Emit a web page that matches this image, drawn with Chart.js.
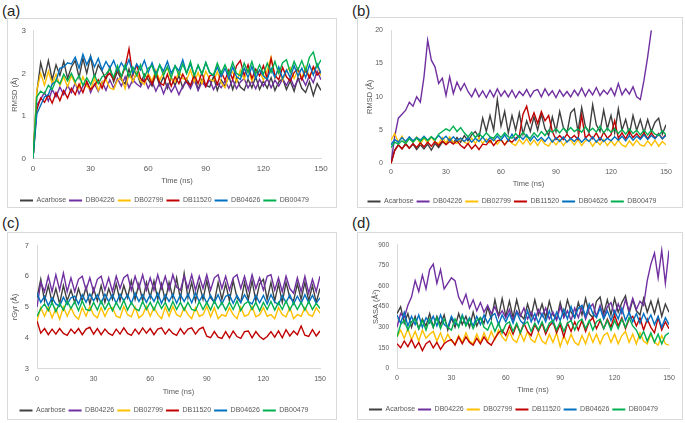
<!DOCTYPE html>
<html>
<head>
<meta charset="utf-8">
<script src="https://cdn.jsdelivr.net/npm/chart.js@4.4.1/dist/chart.umd.min.js"></script>
<style>
  body { margin: 0; background: #fff; width: 685px; height: 423px; overflow: hidden; position: relative; font-family: "Liberation Sans", Arial, sans-serif; }
  .box { position: absolute; border: 1px solid #d9d9d9; box-sizing: border-box; }
  .tag { position: absolute; font-size: 15px; color: #262626; line-height: 1; }
  canvas { position: absolute; }
</style>
</head>
<body>
<div class="box" style="left:7px;top:18px;width:330px;height:190px"></div>
<div class="box" style="left:357px;top:17px;width:326px;height:191px"></div>
<div class="box" style="left:7px;top:232px;width:330px;height:188px"></div>
<div class="box" style="left:357px;top:232px;width:326px;height:188px"></div>
<div class="tag" style="left:2px;top:3px">(a)</div>
<div class="tag" style="left:352px;top:3px">(b)</div>
<div class="tag" style="left:2px;top:215px">(c)</div>
<div class="tag" style="left:352px;top:215px">(d)</div>

<script>
const SERIES = ['Acarbose', 'DB04226', 'DB02799', 'DB11520', 'DB04626', 'DB00479'];
const COLORS = ['#404040', '#7030A0', '#FFC000', '#C00000', '#0070C0', '#00B050'];

const timeNs = [0,2,4,6,8,10,12,14,16,18, 20,22,24,26,28,30,32,34,36,38, 40,42,44,46,48,50,52,54,56,58,
  60,62,64,66,68,70,72,74,76,78, 80,82,84,86,88,90,92,94,96,98, 100,102,104,106,108,110,112,114,116,118,
  120,122,124,126,128,130,132,134,136,138, 140,142,144,146,148,150];

// (a) protein RMSD
const aAcarbose = [0,1.55,2.25,1.9,2.3,1.85,2.2,1.95,2.28,1.88, 2.15,2.3,1.9,2.35,2.0,2.4,1.9,2.2,2.05,1.85,
  2.15,1.8,2.05,1.85,1.75,2.1,1.8,2.02,1.75,1.98, 1.85,1.7,1.98,1.72,1.92,1.65,1.9,1.72,1.95,1.66,
  1.88,1.7,1.95,1.62,1.86,1.72,1.68,1.92,1.6,1.85, 1.7,1.95,1.62,1.88,1.68,1.6,1.86,1.66,1.92,1.62,
  1.82,1.65,1.9,1.6,1.8,1.88,1.62,1.82,1.58,1.9, 1.65,1.55,1.8,1.48,1.76,1.6];
const aDB04226 = [0,1.25,1.4,1.55,1.35,1.62,1.45,1.68,1.5,1.72, 1.55,1.78,1.52,1.7,1.82,1.55,1.75,1.58,1.8,1.6,
  1.85,1.65,1.88,1.7,1.92,1.66,1.85,1.75,1.68,1.88, 1.65,1.82,1.58,1.78,1.52,1.75,1.56,1.72,1.5,1.7,
  1.8,1.64,1.85,1.6,1.8,1.68,1.86,1.62,1.78,1.66, 1.82,1.65,1.85,1.64,1.8,1.88,1.66,1.82,1.64,1.86,
  1.7,1.88,1.66,1.84,1.7,1.87,1.72,1.9,1.68,1.84, 1.9,1.72,1.95,1.78,2.05,1.85];
const aDB02799 = [0,1.6,2.0,1.72,2.05,1.75,1.98,1.72,1.92,1.68, 1.95,1.75,1.65,1.92,1.7,1.62,1.88,1.6,1.8,1.85,
  1.66,1.62,1.84,1.9,1.64,1.98,1.8,2.02,1.82,1.74, 2.0,1.82,2.08,1.84,2.02,2.12,1.86,1.8,2.05,1.88,
  1.84,2.08,1.8,2.02,1.76,2.05,1.86,1.82,2.04,1.78, 1.66,1.95,2.04,1.8,2.08,1.86,2.1,1.82,2.02,2.06,
  1.84,2.08,2.38,1.9,2.1,1.84,2.06,2.14,1.88,2.08, 1.9,2.15,1.92,2.1,2.18,1.95];
const aDB11520 = [0,1.15,1.42,1.32,1.5,1.3,1.55,1.36,1.6,1.42, 1.65,1.5,1.75,1.55,1.8,1.62,1.72,1.85,1.65,1.92,
  2.0,1.85,2.12,1.9,2.15,2.58,1.95,2.2,1.88,1.8, 1.95,1.75,2.02,1.78,1.72,1.98,1.7,1.92,1.76,1.98,
  1.8,1.72,1.96,1.76,2.02,1.7,1.94,1.98,1.74,2.04, 1.84,2.08,1.86,2.18,2.3,1.95,2.2,1.88,2.1,1.94,
  2.18,1.88,2.35,1.95,1.85,2.14,1.92,1.82,2.02,2.12, 1.85,2.08,1.9,2.16,1.96,2.05];
const aDB04626 = [0,1.05,1.25,1.45,1.5,1.75,1.82,2.12,2.15,2.25, 2.22,2.38,2.12,2.45,2.2,2.4,2.15,2.35,2.08,2.28,
  2.12,2.3,2.05,2.25,2.1,2.32,2.0,2.22,2.08,2.3, 2.02,2.25,1.98,2.2,2.05,2.28,2.0,2.18,2.06,2.32,
  2.0,2.22,1.95,2.18,1.98,2.25,2.02,1.94,2.15,1.92, 2.12,1.88,2.15,1.92,1.86,2.12,1.9,2.16,1.88,2.08,
  1.94,1.86,2.12,1.9,2.15,1.88,2.08,1.9,2.18,1.94, 2.12,1.9,2.2,1.96,2.22,2.0];
const aDB00479 = [0,1.45,1.58,1.52,1.72,1.62,1.85,1.75,1.98,1.82, 2.0,1.8,1.95,1.72,1.9,1.74,1.96,1.76,1.92,1.98,
  2.1,1.9,2.18,1.92,2.2,1.92,2.15,1.95,2.2,1.9, 2.12,2.18,1.92,2.2,1.95,2.16,1.9,2.18,1.96,2.22,
  2.0,2.28,1.94,2.2,1.98,2.26,2.02,1.96,2.24,2.0, 2.2,1.98,2.26,2.0,1.94,2.24,2.02,2.28,1.98,2.2,
  1.98,2.24,2.02,2.28,2.0,2.25,2.32,2.02,2.28,2.08, 2.3,2.05,2.38,2.5,2.15,2.32];

// (b) ligand RMSD
const bAcarbose = [0,2.0,2.8,2.2,3.0,2.3,2.9,2.1,2.8,2.2, 2.9,2.0,3.0,2.4,3.2,3.0,3.8,3.1,3.9,3.2,
  4.2,3.4,4.3,4.8,3.9,6.8,4.8,7.2,5.0,9.6, 5.6,7.8,4.6,7.2,5.0,7.6,4.4,6.4,4.8,7.0,
  5.0,7.4,5.2,4.2,7.0,4.8,7.8,5.4,4.6,7.6, 8.2,4.8,8.4,5.6,4.6,8.8,5.8,4.8,8.0,5.2,
  7.2,4.6,8.2,5.0,6.6,4.4,7.2,5.0,6.6,4.6, 6.6,4.8,6.2,6.8,4.4,5.8];
const bDB04226 = [0,4.0,6.8,7.4,8.0,9.2,8.6,10.0,9.2,13.0, 18.5,15.5,14.5,12.0,12.8,10.2,13.0,10.5,12.2,11.0,
  12.0,10.8,10.0,11.2,10.0,10.9,9.9,11.0,10.0,11.2, 10.1,10.9,10.0,11.0,9.9,10.8,10.2,11.1,10.0,10.9,
  11.1,10.0,11.2,10.2,10.9,9.9,11.0,10.1,10.8,10.0, 11.0,10.2,11.3,10.1,11.1,10.3,11.4,10.2,11.0,10.4,
  11.3,10.2,12.0,10.3,11.2,10.4,11.5,10.0,9.6,12.5, 16.0,20.0,null,null,null,null];
const bDB02799 = [3.5,4.5,3.2,4.1,3.0,3.9,3.2,4.0,2.9,3.8, 3.1,4.0,3.2,3.0,3.9,3.1,4.0,3.2,3.0,3.8,
  3.2,2.9,3.8,3.0,3.9,3.0,3.7,3.1,3.8,2.9, 3.6,2.8,3.7,3.0,2.7,3.6,2.9,3.7,2.8,3.5,
  2.7,3.6,2.9,2.6,3.5,2.8,3.6,2.7,3.4,3.5, 2.8,3.6,2.7,3.4,3.5,2.6,3.4,2.8,3.6,2.7,
  3.4,2.7,3.5,2.8,2.5,3.4,2.7,3.5,2.8,2.6, 3.4,2.7,3.5,2.6,3.3,2.8];
const bDB11520 = [0,1.9,2.8,2.2,2.9,2.3,3.0,2.4,3.1,2.5, 3.2,2.6,3.3,2.7,3.4,2.8,3.3,2.9,3.4,2.7,
  2.3,3.0,2.2,2.8,2.1,2.9,2.8,3.5,2.7,3.4, 3.6,2.8,3.5,3.2,3.8,4.2,7.4,8.6,6.2,7.6,
  6.0,7.8,6.4,7.2,4.8,3.6,4.2,3.6,4.4,3.7, 4.2,3.6,7.2,3.8,4.4,3.7,4.6,3.5,4.7,3.8,
  4.3,6.4,3.8,4.6,3.7,4.8,3.9,4.5,3.8,4.6, 3.7,4.6,3.8,4.5,3.7,4.4];
const bDB04626 = [2.8,3.6,3.2,3.9,3.3,4.0,3.4,3.9,3.5,4.1, 3.5,4.0,3.6,4.2,3.6,4.1,3.4,4.0,3.4,3.8,
  3.3,3.9,3.2,3.8,3.3,4.0,3.2,3.9,3.4,4.1, 3.5,4.3,3.4,4.4,3.5,4.2,3.6,4.3,3.4,4.1,
  3.4,3.9,3.3,4.0,3.2,3.9,3.3,4.0,3.2,3.8, 3.3,3.9,3.2,3.8,3.3,4.0,3.2,3.9,3.3,3.8,
  3.4,4.0,3.5,4.1,3.4,4.2,3.5,4.1,3.6,4.3, 3.6,4.2,3.7,4.4,3.7,4.2];
const bDB00479 = [2.4,3.2,2.9,3.4,3.0,3.7,3.2,3.8,3.3,3.9, 3.4,4.0,3.5,4.4,4.8,5.2,4.9,5.6,4.8,5.4,
  4.6,4.0,4.7,3.9,4.5,3.9,4.6,4.0,3.8,4.5, 3.9,4.6,4.0,3.8,4.5,3.9,4.7,4.0,3.8,4.6,
  4.0,4.8,4.2,5.0,4.7,5.2,4.6,5.3,4.8,5.4, 4.8,5.2,4.7,5.5,4.8,5.3,4.7,5.6,4.6,5.3,
  4.7,5.2,4.5,5.1,4.4,5.2,4.5,5.0,4.3,5.0, 4.3,5.0,4.4,4.2,4.9,4.3];

// (c) radius of gyration
const cAcarbose = [5.3,5.9,5.2,5.7,5.15,5.6,5.1,5.7,5.2,5.55, 5.15,5.6,5.2,5.65,5.1,5.6,5.2,5.7,5.15,5.6,
  5.25,5.75,5.2,5.7,5.3,5.85,5.25,5.75,5.2,5.8, 5.3,5.85,5.25,5.75,5.2,5.8,5.3,5.95,5.25,6.1,
  5.3,5.8,5.2,5.75,5.25,5.85,5.3,5.15,5.8,5.25, 5.75,5.2,5.85,5.3,5.15,5.8,5.25,5.85,5.2,5.75,
  5.9,5.25,5.8,5.2,5.75,5.15,5.8,5.3,5.2,5.75, 5.25,5.8,5.2,5.7,5.15,5.6];
const cDB04226 = [5.0,5.8,5.5,6.0,5.5,6.05,5.55,6.1,5.5,5.95, 5.5,5.9,6.0,5.55,5.95,5.5,5.9,6.0,5.55,5.95,
  5.5,6.0,5.6,5.95,6.05,5.55,6.0,5.6,6.05,5.55, 5.95,5.55,6.05,5.6,6.0,5.55,6.05,5.65,5.55,6.0,
  5.6,6.05,5.55,6.0,5.6,6.05,5.55,5.95,6.05,5.6, 6.0,5.55,5.95,6.05,5.6,6.0,5.55,6.05,5.6,5.95,
  5.55,6.0,6.05,5.55,5.95,5.5,6.0,5.6,5.45,5.95, 5.5,6.0,5.45,5.9,5.5,6.0];
const cDB02799 = [4.55,4.98,4.7,5.0,4.65,4.95,4.6,5.0,4.7,4.98, 4.72,4.6,4.98,4.7,5.02,4.75,4.65,4.98,4.7,4.95,
  4.98,4.7,4.65,5.02,4.75,4.68,5.0,4.65,4.75,5.02, 4.7,4.98,4.75,4.62,5.0,4.7,5.02,4.75,4.68,4.98,
  4.75,4.62,4.98,4.7,4.75,5.02,4.68,4.98,4.62,4.75, 4.7,4.98,4.75,4.62,5.0,4.7,4.75,5.02,4.68,4.75,
  4.98,4.7,4.75,4.62,4.98,4.75,4.68,4.98,4.62,4.75, 4.7,4.98,4.75,4.7,4.98,4.8];
const cDB11520 = [4.55,4.15,4.3,4.1,4.28,4.12,4.3,4.14,4.08,4.28, 4.14,4.3,4.1,4.28,4.34,4.12,4.3,4.1,4.28,4.14,
  4.08,4.28,4.12,4.32,4.14,4.08,4.28,4.12,4.32,4.15, 4.3,4.1,4.28,4.32,4.12,4.28,4.14,4.08,4.3,4.12,
  4.28,4.32,4.12,4.28,4.34,4.05,4.0,4.2,4.02,3.98, 4.2,4.0,4.22,4.04,3.98,4.2,4.22,4.0,4.2,4.04,
  3.95,4.04,4.2,4.02,4.22,4.0,4.26,4.06,4.22,4.1, 4.38,4.08,4.04,4.26,4.06,4.22];
const cDB04626 = [5.45,5.15,5.35,5.05,5.3,5.1,5.02,5.32,5.08,5.3, 5.35,5.1,5.4,5.15,5.42,5.2,5.4,5.12,5.42,5.18,
  5.4,5.12,5.42,5.2,5.4,5.12,5.45,5.18,5.4,5.15, 5.4,5.18,5.45,5.12,5.4,5.18,5.42,5.12,5.4,5.18,
  5.42,5.14,5.45,5.18,5.4,5.12,5.38,5.15,5.4,5.1, 5.35,5.4,5.12,5.38,5.15,5.4,5.18,5.1,5.38,5.14,
  5.38,5.1,5.4,5.16,5.08,5.38,5.14,5.4,5.1,5.35, 5.12,5.4,5.14,5.38,5.12,5.3];
const cDB00479 = [4.7,4.95,5.1,4.88,5.15,4.85,5.12,4.9,5.2,4.95, 5.18,4.88,5.2,4.92,4.88,5.15,4.9,5.2,4.92,5.15,
  4.88,5.15,4.92,5.22,4.9,5.15,4.95,4.88,5.18,4.92, 5.15,4.9,5.2,4.95,5.15,4.88,5.18,4.92,5.15,4.9,
  5.15,4.92,4.88,5.18,4.92,5.15,4.9,5.2,4.95,5.15, 4.9,5.15,4.92,5.2,4.88,5.1,5.18,4.92,5.15,4.88,
  5.15,4.92,5.18,4.9,5.15,4.92,5.2,4.9,5.15,4.92, 5.15,4.9,5.18,4.92,5.12,4.95];

// (d) SASA
const dAcarbose = [400,450,330,400,300,380,290,360,310,400, 300,380,320,390,280,370,300,400,320,380,
  300,410,310,370,330,450,360,500,380,510, 380,490,370,500,390,360,470,380,500,390,
  470,370,490,390,360,480,380,500,410,370, 480,390,510,400,370,490,520,400,500,390,
  510,410,480,530,400,500,420,390,510,410, 490,400,500,380,470,410];
const dDB04226 = [300,400,370,460,520,640,560,680,580,720, 760,620,720,580,620,660,640,520,470,540,
  440,500,420,480,410,460,400,450,380,420, 370,430,350,420,380,440,360,410,350,430,
  380,440,360,410,350,450,370,420,350,440, 370,450,360,440,470,380,460,370,450,480,
  390,470,400,500,420,510,430,490,460,640, 760,840,660,860,620,860];
const dDB02799 = [230,280,220,290,210,270,200,280,220,250, 270,200,260,190,250,200,180,240,190,260,
  200,180,250,190,260,200,270,210,280,230, 200,270,210,190,260,200,270,210,190,260,
  200,180,250,190,260,160,240,180,250,190, 170,240,180,260,190,250,180,240,260,190,
  250,180,240,270,190,250,180,260,200,180, 250,190,170,240,180,170];
const dDB11520 = [180,150,200,160,210,150,190,130,180,200, 150,190,140,180,200,210,170,230,180,230,
  190,170,220,180,230,190,170,220,260,280, 240,310,250,320,260,330,270,240,320,270,
  330,250,310,340,260,320,230,330,270,340, 280,350,270,340,370,290,350,290,360,300,
  390,310,370,290,360,380,310,370,280,360, 300,260,370,280,340,290];
const dDB04626 = [390,330,410,310,380,320,390,300,370,330, 380,310,390,320,300,380,330,310,390,320,
  370,310,380,320,390,330,380,400,320,390, 340,400,330,410,350,320,420,340,400,330,
  400,340,420,330,410,350,430,360,450,370, 440,460,380,470,400,370,440,360,420,350,
  420,360,440,350,410,340,400,330,400,340, 390,320,380,300,370,320];
const dDB00479 = [230,320,350,280,340,360,290,350,280,360, 300,370,290,360,300,280,360,300,380,310,
  360,290,350,370,300,280,340,270,330,260, 320,340,270,330,260,320,340,270,330,280,
  340,270,330,350,280,340,270,330,350,280, 340,360,290,350,280,340,360,290,350,280,
  350,290,360,300,370,310,280,220,270,200, 260,190,250,180,240,260];

const FONT = '"Liberation Sans", Arial, sans-serif';
const TXT = '#595959';

// layout of each panel in page pixels
const PANELS = [
  { series: [aAcarbose, aDB04226, aDB02799, aDB11520, aDB04626, aDB00479], yTitle: 'RMSD (Å)', yMin: 0, yMax: 3, yStep: 1,
    left: 8, top: 19, w: 328, h: 195, yW: 25, padTop: 8, padRight: 15, xH: 35.5, xTitlePB: 9, xTick: 8, xTickPad: 5.2,
    yTick: 8, yTitlePT: 2.5, yTickPad: 7 },
  { series: [bAcarbose, bDB04226, bDB02799, bDB11520, bDB04626, bDB00479], yTitle: 'RMSD (Å)', yMin: 0, yMax: 20, yStep: 5,
    left: 358, top: 18, w: 324, h: 197, yW: 33, padTop: 9, padRight: 16, xH: 31.5, xTitlePB: 7, xTick: 7, xTickPad: 4.8,
    yTick: 7, yTitlePT: 7.5, yTickPad: 8 },
  { series: [cAcarbose, cDB04226, cDB02799, cDB11520, cDB04626, cDB00479], yTitle: 'rGyr (Å)', yMin: 3, yMax: 7, yStep: 1,
    left: 8, top: 233, w: 328, h: 191, yW: 29, padTop: 6, padRight: 16, xH: 35.5, xTitlePB: 8, xTick: 7, xTickPad: 6.8,
    yTick: 7.5, yTitlePT: 2.5, yTickPad: 8 },
  { series: [dAcarbose, dDB04226, dDB02799, dDB11520, dDB04626, dDB00479], yTitle: 'SASA (Å²)', yMin: 0, yMax: 900, yStep: 150,
    left: 358, top: 233, w: 324, h: 190, yW: 39, padTop: 6, padRight: 13, xH: 34.5, xTitlePB: 9, xTick: 7, xTickPad: 5.8,
    yTick: 6.5, yTitlePT: 13.5, yTickPad: 8 }
];

function drawPanel(p) {
  const cv = document.createElement('canvas');
  cv.width = p.w; cv.height = p.h;
  cv.style.left = p.left + 'px'; cv.style.top = p.top + 'px';
  document.body.appendChild(cv);

  new Chart(cv, {
    type: 'line',
    data: {
      datasets: p.series.map((vals, i) => ({
        label: SERIES[i],
        data: vals.map((v, k) => ({ x: timeNs[k], y: v })),
        borderColor: COLORS[i], backgroundColor: COLORS[i],
        borderWidth: 1.4, pointRadius: 0, tension: 0, order: 5 - i
      }))
    },
    options: {
      responsive: false, animation: false, devicePixelRatio: 1,
      layout: { padding: { top: p.padTop, right: p.padRight, bottom: 0, left: 0 } },
      plugins: {
        tooltip: { enabled: false },
        legend: {
          position: 'bottom',
          labels: {
            usePointStyle: true, pointStyle: 'line', pointStyleWidth: 13, padding: 3,
            color: TXT, font: { size: 7, family: FONT },
            sort: (a, b) => a.datasetIndex - b.datasetIndex,
            generateLabels: ch => Chart.defaults.plugins.legend.labels.generateLabels(ch).map(l => ({ ...l, lineWidth: 2 }))
          }
        }
      },
      scales: {
        x: {
          type: 'linear', min: 0, max: 150,
          ticks: { stepSize: 30, padding: p.xTickPad, color: TXT, font: { size: p.xTick, family: FONT } },
          grid: { display: false, drawTicks: false },
          border: { color: '#d9d9d9' },
          title: { display: true, text: 'Time (ns)', color: TXT, font: { size: 7.5, family: FONT }, padding: { top: 0, bottom: p.xTitlePB } },
          afterFit: s => { s.height = p.xH; }
        },
        y: {
          min: p.yMin, max: p.yMax,
          ticks: { stepSize: p.yStep, padding: p.yTickPad, color: TXT, font: { size: p.yTick, family: FONT } },
          grid: { display: false, drawTicks: false },
          border: { color: '#d9d9d9' },
          title: { display: true, text: p.yTitle, color: TXT, font: { size: 7.5, family: FONT }, padding: { top: p.yTitlePT, bottom: 0 } },
          afterFit: s => { s.width = p.yW; }
        }
      }
    }
  });
}

PANELS.forEach(drawPanel);
</script>
</body>
</html>
